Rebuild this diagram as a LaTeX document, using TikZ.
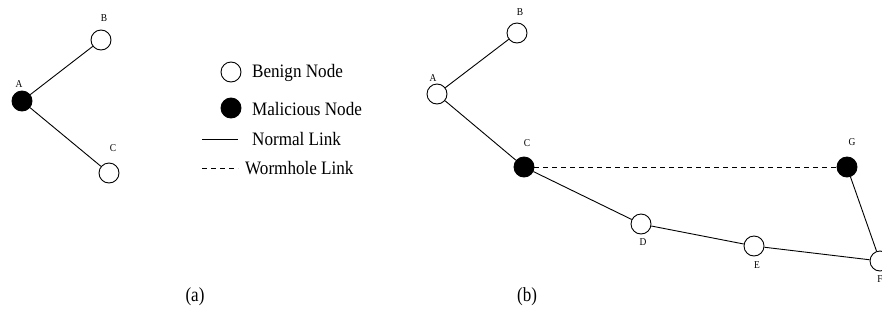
\documentclass[tikz,border=0pt]{standalone}
\usepackage{fontspec}
\setmainfont{Liberation Serif}
\begin{document}
\begin{tikzpicture}[x=1pt,y=-1pt,
  benign/.style={circle,draw,line width=0.9pt,fill=white,minimum size=20pt,inner sep=0pt},
  malicious/.style={circle,draw,line width=0.9pt,fill=black,minimum size=20pt,inner sep=0pt},
  lbl/.style={font=\fontsize{10.5}{10.5}\selectfont,inner sep=0pt,xscale=0.9},
  legtext/.style={font=\fontsize{19}{19}\selectfont,anchor=west,inner sep=0pt,xscale=0.9},
  link/.style={line width=0.9pt},
  worm/.style={line width=0.9pt,dash pattern=on 5pt off 4pt},
  captext/.style={font=\fontsize{20}{20}\selectfont,inner sep=0pt,xscale=0.85}]
\useasboundingbox (0,0) rectangle (882,327);
% panel (a)
\node[malicious] (aA) at (22,101) {};
\node[benign] (aB) at (101,40) {};
\node[benign] (aC) at (109,173) {};
\node[lbl] (laA) at (19,84) {A};
\node[lbl] (laB) at (104,18) {B};
\node[lbl] (laC) at (113,148) {C};
\draw[link] (aA) -- (aB);
\draw[link] (aA) -- (aC);
% legend
\node[benign] (lgB) at (231,72) {};
\node[legtext] (tB) at (252,73) {Benign Node};
\node[malicious] (lgM) at (231,108) {};
\node[legtext] (tM) at (252,109) {Malicious Node};
\coordinate (n1) at (202,139);
\coordinate (n2) at (238,139);
\draw[link] (n1) -- (n2);
\node[legtext] (tN) at (252,139) {Normal Link};
\coordinate (w1) at (202,168);
\coordinate (w2) at (238,168);
\draw[worm] (w1) -- (w2);
\node[legtext] (tW) at (245,168) {Wormhole Link};
% panel (b)
\node[benign] (bA) at (437,94) {};
\node[benign] (bB) at (517,33) {};
\node[malicious] (bC) at (524,167) {};
\node[malicious] (bG) at (847,167) {};
\node[benign] (bD) at (641,224) {};
\node[benign] (bE) at (754,246) {};
\node[benign] (bF) at (880,261) {};
\node[lbl] (lbA) at (433,78) {A};
\node[lbl] (lbB) at (520,12) {B};
\node[lbl] (lbC) at (527,143) {C};
\node[lbl] (lbG) at (852,142) {G};
\node[lbl] (lbD) at (643,242) {D};
\node[lbl] (lbE) at (757,265) {E};
\node[lbl] (lbF) at (880,279) {F};
\draw[link] (bA) -- (bB);
\draw[link] (bA) -- (bC);
\draw[link] (bC) -- (bD);
\draw[link] (bD) -- (bE);
\draw[link] (bE) -- (bF);
\draw[link] (bG) -- (bF);
\draw[worm] (bC) -- (bG);
% captions
\node[captext] (ca) at (195,297) {(a)};
\node[captext] (cb) at (527,297) {(b)};
\end{tikzpicture}
\end{document}
